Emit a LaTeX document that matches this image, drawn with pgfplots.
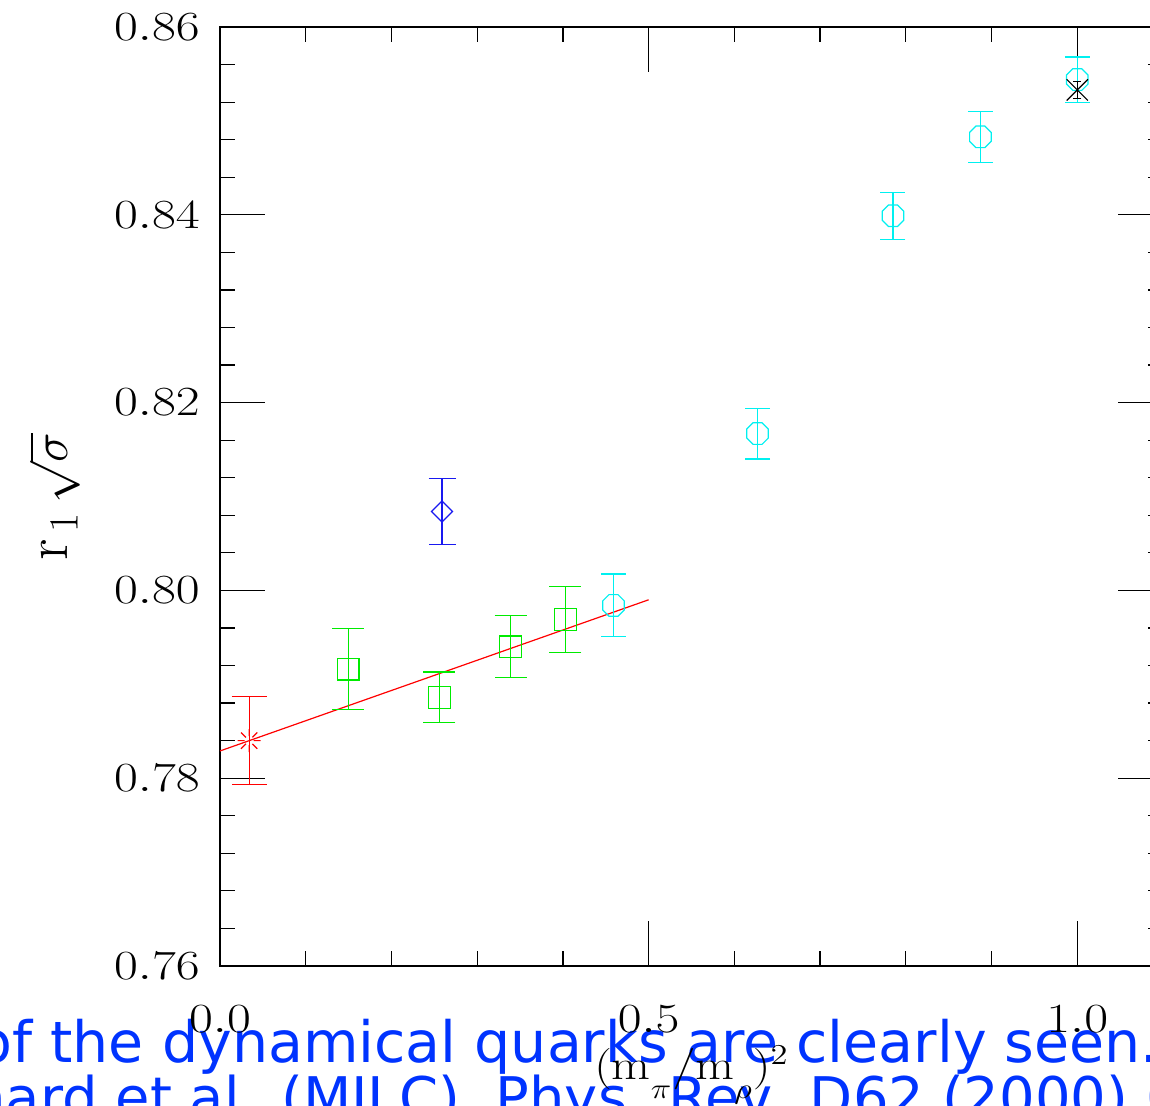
\documentclass[border=0pt]{standalone}
\usepackage{pgfplots}
\pgfplotsset{compat=1.18}
\usepackage{fontspec}
\newfontfamily\slidefont{DejaVu Sans}
\definecolor{myred}{RGB}{255,0,0}
\definecolor{mygreen}{RGB}{0,235,0}
\definecolor{mycyan}{RGB}{0,240,240}
\definecolor{myblue}{RGB}{25,25,240}
\definecolor{slideblue}{RGB}{0,51,255}

\pgfdeclareplotmark{octagon}{%
 \pgfpathmoveto{\pgfqpoint{\pgfplotmarksize}{0.4142\pgfplotmarksize}}%
 \pgfpathlineto{\pgfqpoint{0.4142\pgfplotmarksize}{\pgfplotmarksize}}%
 \pgfpathlineto{\pgfqpoint{-0.4142\pgfplotmarksize}{\pgfplotmarksize}}%
 \pgfpathlineto{\pgfqpoint{-\pgfplotmarksize}{0.4142\pgfplotmarksize}}%
 \pgfpathlineto{\pgfqpoint{-\pgfplotmarksize}{-0.4142\pgfplotmarksize}}%
 \pgfpathlineto{\pgfqpoint{-0.4142\pgfplotmarksize}{-\pgfplotmarksize}}%
 \pgfpathlineto{\pgfqpoint{0.4142\pgfplotmarksize}{-\pgfplotmarksize}}%
 \pgfpathlineto{\pgfqpoint{\pgfplotmarksize}{-0.4142\pgfplotmarksize}}%
 \pgfpathclose\pgfusepathqstroke}
\pgfdeclareplotmark{rdiamond}{%
 \pgfpathmoveto{\pgfqpoint{0pt}{\pgfplotmarksize}}%
 \pgfpathlineto{\pgfqpoint{\pgfplotmarksize}{0pt}}%
 \pgfpathlineto{\pgfqpoint{0pt}{-\pgfplotmarksize}}%
 \pgfpathlineto{\pgfqpoint{-\pgfplotmarksize}{0pt}}%
 \pgfpathclose\pgfusepathqstroke}
\pgfdeclareplotmark{burst}{%
 \pgfpathmoveto{\pgfqpoint{0.4\pgfplotmarksize}{0pt}}\pgfpathlineto{\pgfqpoint{\pgfplotmarksize}{0pt}}%
 \pgfpathmoveto{\pgfqpoint{-0.4\pgfplotmarksize}{0pt}}\pgfpathlineto{\pgfqpoint{-\pgfplotmarksize}{0pt}}%
 \pgfpathmoveto{\pgfqpoint{0pt}{0.4\pgfplotmarksize}}\pgfpathlineto{\pgfqpoint{0pt}{\pgfplotmarksize}}%
 \pgfpathmoveto{\pgfqpoint{0pt}{-0.4\pgfplotmarksize}}\pgfpathlineto{\pgfqpoint{0pt}{-\pgfplotmarksize}}%
 \pgfpathmoveto{\pgfqpoint{0.2828\pgfplotmarksize}{0.2828\pgfplotmarksize}}\pgfpathlineto{\pgfqpoint{0.7071\pgfplotmarksize}{0.7071\pgfplotmarksize}}%
 \pgfpathmoveto{\pgfqpoint{-0.2828\pgfplotmarksize}{0.2828\pgfplotmarksize}}\pgfpathlineto{\pgfqpoint{-0.7071\pgfplotmarksize}{0.7071\pgfplotmarksize}}%
 \pgfpathmoveto{\pgfqpoint{0.2828\pgfplotmarksize}{-0.2828\pgfplotmarksize}}\pgfpathlineto{\pgfqpoint{0.7071\pgfplotmarksize}{-0.7071\pgfplotmarksize}}%
 \pgfpathmoveto{\pgfqpoint{-0.2828\pgfplotmarksize}{-0.2828\pgfplotmarksize}}\pgfpathlineto{\pgfqpoint{-0.7071\pgfplotmarksize}{-0.7071\pgfplotmarksize}}%
 \pgfusepathqstroke}

\pgfplotstableread{
x y e
0.034 0.7840 0.0047
}\redpts
\pgfplotstableread{
x y e
0.1495 0.7916 0.0043
0.256 0.7886 0.0027
0.339 0.7940 0.0033
0.403 0.7969 0.0035
}\greenpts
\pgfplotstableread{
x y e
0.259 0.8084 0.00355
}\bluepts
\pgfplotstableread{
x y e
0.459 0.7984 0.00335
0.627 0.8167 0.0027
0.785 0.8399 0.0025
0.887 0.8483 0.0027
1.000 0.8544 0.0024
}\cyanpts
\pgfplotstableread{
x y e
1.000 0.8533 0.0009
}\blackpts

\begin{document}
\begin{tikzpicture}
\node[anchor=base west, inner sep=0pt, text=slideblue, font=\slidefont\fontsize{28.5}{30}\selectfont] at (-121.5pt,-48.5pt) {of the dynamical quarks are clearly seen.};
\node[anchor=base west, inner sep=0pt, text=slideblue, font=\slidefont\fontsize{28}{30}\selectfont] at (-125pt,-76pt) {hard et al. (MILC), Phys. Rev. D62 (2000) 034503};
\begin{axis}[
  at={(0pt,0pt)}, anchor=south west,
  scale only axis, width=471.5pt, height=469.5pt,
  xmin=0, xmax=1.1, ymin=0.76, ymax=0.86,
  clip=false,
  xtick={0,0.5,1.0},
  minor xtick={0.1,0.2,0.3,0.4,0.6,0.7,0.8,0.9},
  ytick={0.76,0.78,0.80,0.82,0.84,0.86},
  minor y tick num=4,
  major tick length=22.5pt, minor tick length=7.5pt,
  tick style={black, line width=0.6pt},
  axis line style={black, line width=0.7pt},
  xticklabel={\scalebox{1.25}[1]{$\pgfmathprintnumber[fixed,fixed zerofill,precision=1]{\tick}$}},
  yticklabel={\scalebox{1.25}[1]{$\pgfmathprintnumber[fixed,fixed zerofill,precision=2]{\tick}$}},
  xticklabel style={font=\fontsize{20}{24}\selectfont, anchor=north, inner sep=0pt, yshift=-19.5pt},
  yticklabel style={font=\fontsize{20}{24}\selectfont, anchor=east, inner sep=0pt, xshift=-10pt},
  xlabel={\scalebox{1.2}[1]{$(\mathrm{m}_{\raisebox{-0.3em}{$\scriptstyle\pi$}}/\mathrm{m}_{\raisebox{-0.3em}{$\scriptstyle\rho$}})^2$}},
  xlabel style={at={(axis description cs:0.5,0)}, anchor=base, yshift=-57pt, font=\fontsize{21}{24}\selectfont, inner sep=0pt},
  ylabel={$\mathrm{r}_{\,1}\,\sqrt{\sigma}$},
  ylabel style={at={(axis description cs:-0.1612,0.5)}, anchor=base, font=\fontsize{30}{34}\selectfont, inner sep=0pt},
]
\addplot[myred, line width=0.6pt] coordinates {(0,0.7829) (0.5,0.7990)};
\addplot[only marks, color=myred, mark=burst, mark size=5.75pt, mark options={line width=0.6pt, draw=myred},
  error bars/.cd, y dir=both, y explicit,
  error bar style={line width=0.6pt, draw=myred},
  error mark options={rotate=90, mark size=8.75pt, line width=0.6pt, draw=myred}]
  table[x=x, y=y, y error=e] {\redpts};
\addplot[only marks, color=mygreen, mark=square, mark size=5.4pt, mark options={line width=0.6pt, draw=mygreen},
  error bars/.cd, y dir=both, y explicit,
  error bar style={line width=0.6pt, draw=mygreen},
  error mark options={rotate=90, mark size=8pt, line width=0.6pt, draw=mygreen}]
  table[x=x, y=y, y error=e] {\greenpts};
\addplot[only marks, color=myblue, mark=rdiamond, mark size=5.25pt, mark options={line width=0.6pt, draw=myblue},
  error bars/.cd, y dir=both, y explicit,
  error bar style={line width=0.6pt, draw=myblue},
  error mark options={rotate=90, mark size=6.75pt, line width=0.6pt, draw=myblue}]
  table[x=x, y=y, y error=e] {\bluepts};
\addplot[only marks, color=mycyan, mark=octagon, mark size=5.4pt, mark options={line width=0.6pt, draw=mycyan},
  error bars/.cd, y dir=both, y explicit,
  error bar style={line width=0.6pt, draw=mycyan},
  error mark options={rotate=90, mark size=6.25pt, line width=0.6pt, draw=mycyan}]
  table[x=x, y=y, y error=e] {\cyanpts};
\addplot[only marks, color=black, mark=x, mark size=7.5pt, mark options={line width=0.6pt, draw=black},
  error bars/.cd, y dir=both, y explicit,
  error bar style={line width=0.6pt, draw=black},
  error mark options={rotate=90, mark size=2pt, line width=0.6pt, draw=black}]
  table[x=x, y=y, y error=e] {\blackpts};
\end{axis}
\pgfresetboundingbox
\path[use as bounding box] (-110pt,-70pt) rectangle (465pt,483pt);
\end{tikzpicture}
\end{document}
